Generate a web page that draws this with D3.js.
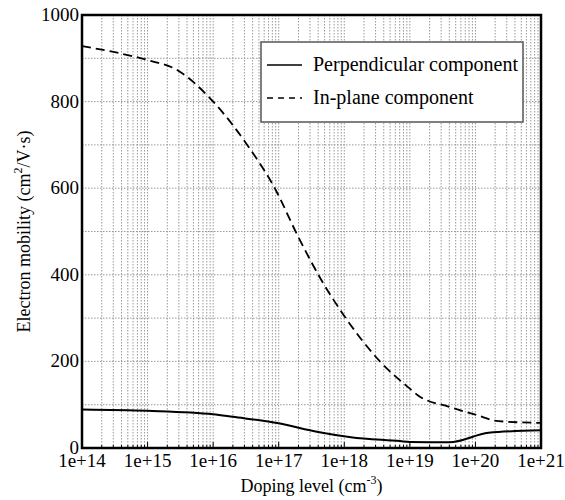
<!DOCTYPE html>
<html>
<head>
<meta charset="utf-8">
<script src="https://cdn.jsdelivr.net/npm/d3@7"></script>
<style>
  body { margin: 0; background: #fff; }
</style>
</head>
<body>
<script>
// doping level (cm^-3) as powers of ten
var dopingExp = [14, 14.5, 15, 15.45, 16, 16.52, 16.94, 17.3, 17.65, 18, 18.55, 19, 19.12, 19.6, 20, 20.35, 21];
var inPlane   = [928, 914, 896, 873, 800, 700, 600, 487, 388, 305, 199, 137, 122, 95, 77, 62, 58];

var perpExp  = [14, 15, 16, 16.3, 17, 17.6, 18.1, 18.85, 19, 19.6, 20.2, 21];
var perp     = [89, 86, 78, 72, 57, 37, 25, 16, 14, 13, 35, 41];

var xTicks = [1e14, 1e15, 1e16, 1e17, 1e18, 1e19, 1e20, 1e21];
var xTickLabels = ["1e+14", "1e+15", "1e+16", "1e+17", "1e+18", "1e+19", "1e+20", "1e+21"];
var yTicks = [0, 200, 400, 600, 800, 1000];

var drawChart = function() {

var w = 565, h = 500;
var pl = 82, pr = 541, pt = 15, pb = 448;
var serif = "'Liberation Serif', 'Times New Roman', Times, serif";

var svg = d3.select("body").append("svg")
  .attr("width", w)
  .attr("height", h)
  .attr("font-family", serif);

var x = d3.scaleLog().domain([1e14, 1e21]).range([pl, pr]);
var y = d3.scaleLinear().domain([0, 1000]).range([pb, pt]);

// grid - all decades plus 2..9 minor lines
var minor = [];
for (var e = 14; e < 21; e++) {
  for (var m = 1; m <= 9; m++) minor.push(m * Math.pow(10, e));
}
minor.push(1e21);

svg.append("g").selectAll("line")
  .data(minor)
  .enter().append("line")
  .attr("x1", function(d) { return x(d); })
  .attr("x2", function(d) { return x(d); })
  .attr("y1", pt)
  .attr("y2", pb)
  .attr("stroke", "#999")
  .attr("stroke-width", 1)
  .attr("stroke-dasharray", "1.5,1.5");

svg.append("g").selectAll("line")
  .data(d3.range(100, 1000, 100))
  .enter().append("line")
  .attr("x1", pl)
  .attr("x2", pr)
  .attr("y1", function(d) { return y(d); })
  .attr("y2", function(d) { return y(d); })
  .attr("stroke", "#999")
  .attr("stroke-width", 1)
  .attr("stroke-dasharray", "1.5,1.5");

// small inward ticks on bottom axis
svg.append("g").selectAll("line")
  .data(minor)
  .enter().append("line")
  .attr("x1", function(d) { return x(d); })
  .attr("x2", function(d) { return x(d); })
  .attr("y1", pb)
  .attr("y2", function(d) { return xTicks.indexOf(d) >= 0 ? pb - 6 : pb - 3; })
  .attr("stroke", "#000")
  .attr("stroke-width", 1);

// curves
var line = d3.line()
  .x(function(d) { return x(Math.pow(10, d[0])); })
  .y(function(d) { return y(d[1]); })
  .curve(d3.curveMonotoneX);

svg.append("path")
  .datum(d3.zip(dopingExp, inPlane))
  .attr("d", line)
  .attr("fill", "none")
  .attr("stroke", "#000")
  .attr("stroke-width", 1.8)
  .attr("stroke-dasharray", "9,5");

svg.append("path")
  .datum(d3.zip(perpExp, perp))
  .attr("d", line)
  .attr("fill", "none")
  .attr("stroke", "#000")
  .attr("stroke-width", 2);

// frame
svg.append("rect")
  .attr("x", pl)
  .attr("y", pt)
  .attr("width", pr - pl)
  .attr("height", pb - pt)
  .attr("fill", "none")
  .attr("stroke", "#000")
  .attr("stroke-width", 2.5);

// tick labels
svg.append("g").selectAll("text")
  .data(xTicks)
  .enter().append("text")
  .attr("x", function(d) { return x(d); })
  .attr("y", 467)
  .attr("text-anchor", "middle")
  .attr("font-size", "19px")
  .text(function(d, i) { return xTickLabels[i]; });

svg.append("g").selectAll("text")
  .data(yTicks)
  .enter().append("text")
  .attr("x", pl - 3)
  .attr("y", function(d) { return y(d) + 6; })
  .attr("text-anchor", "end")
  .attr("font-size", "19px")
  .text(function(d) { return d; });

// axis titles
var xt = svg.append("text")
  .attr("x", (pl + pr) / 2)
  .attr("y", 492)
  .attr("text-anchor", "middle")
  .attr("font-size", "18px");
xt.append("tspan").text("Doping level (cm");
xt.append("tspan").attr("dy", -8).attr("font-size", "12px").text("-3");
xt.append("tspan").attr("dy", 8).text(")");

var yt = svg.append("text")
  .attr("transform", "translate(30," + ((pt + pb) / 2) + ") rotate(-90)")
  .attr("text-anchor", "middle")
  .attr("font-size", "18px");
yt.append("tspan").text("Electron mobility (cm");
yt.append("tspan").attr("dy", -8).attr("font-size", "12px").text("2");
yt.append("tspan").attr("dy", 8).text("/V·s)");

// legend
var lg = svg.append("g");
lg.append("rect")
  .attr("x", 261)
  .attr("y", 42)
  .attr("width", 262)
  .attr("height", 80)
  .attr("fill", "#fff")
  .attr("stroke", "#555")
  .attr("stroke-width", 1.5);

var legendItems = ["Perpendicular component", "In-plane component"];
var legendDash = [null, "6,5"];
legendItems.forEach(function(name, i) {
  var ly = 65 + i * 33;
  lg.append("line")
    .attr("x1", 267).attr("x2", 302)
    .attr("y1", ly).attr("y2", ly)
    .attr("stroke", "#000")
    .attr("stroke-width", 1.5)
    .attr("stroke-dasharray", legendDash[i]);
  lg.append("text")
    .attr("x", 313)
    .attr("y", ly + 6)
    .attr("font-size", "20px")
    .text(name);
});

};

drawChart();
</script>
</body>
</html>
